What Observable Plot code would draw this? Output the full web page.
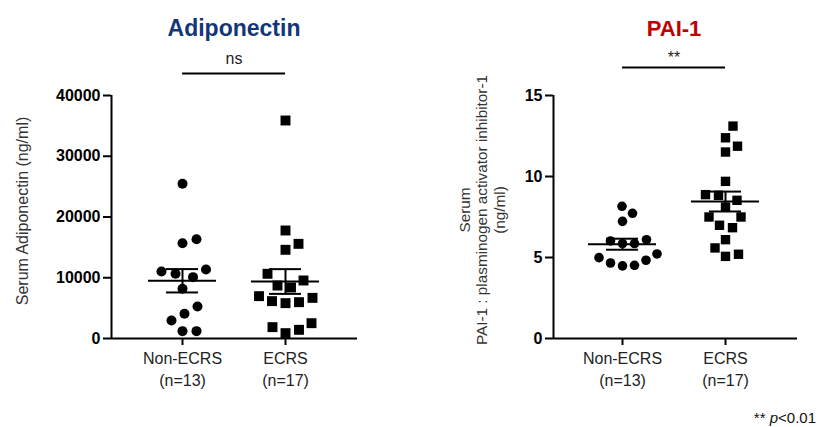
<!DOCTYPE html>
<html>
<head>
<meta charset="utf-8">
<script src="https://cdn.jsdelivr.net/npm/d3@7"></script>
<script src="https://cdn.jsdelivr.net/npm/@observablehq/plot@0.6"></script>
<style>
  html, body { margin: 0; padding: 0; background: #fff; }
  #wrap { position: relative; width: 817px; height: 427px; overflow: hidden; font-family: "Liberation Sans", Arial, sans-serif; }
  #left, #right { position: absolute; top: 0; }
  #left { left: 0; }
  #right { left: 408px; }
  [aria-label="y-axis tick label"] { font-weight: bold; font-size: 16px; }
  #foot { position: absolute; right: 1px; top: 409px; font-size: 15px; color: #111; white-space: nowrap; }
</style>
</head>
<body>
<div id="wrap">
  <div id="left"></div>
  <div id="right"></div>
  <div id="foot">** <i>p</i>&lt;0.01</div>
</div>
<script>
// ---- data ----
const groups = ["Non-ECRS", "ECRS"];
const groupN = ["(n=13)", "(n=17)"];

const adipoNonECRS = [25465, 15690, 16350, 11030, 11360, 10650, 10100, 8180, 5270, 4060, 2960, 1210, 1210];
const adipoECRS = [35885, 17780, 15580, 14600, 10650, 9550, 8720, 8400, 6690, 6970, 5980, 5820, 6150, 2520, 1870, 1430, 880];
const adipoTicks = [0, 10000, 20000, 30000, 40000];

const paiNonECRS = [8.16, 7.73, 7.23, 6.10, 6.02, 5.86, 5.86, 4.99, 5.22, 4.83, 4.66, 4.48, 4.52];
const paiECRS = [13.11, 12.39, 11.87, 11.51, 9.70, 8.84, 8.88, 8.53, 8.11, 7.50, 7.50, 6.99, 6.84, 6.10, 5.59, 5.07, 5.20];
const paiTicks = [0, 5, 10, 15];

// ---- layout helpers ----
const H = 400, MT = 95, MB = 62;
const frameH = H - MT - MB;
const groupStepPx = 103; // pixel distance between group centres

// simple beeswarm: offsets computed in pixel space (elliptical spacing), returned in x data units
function swarm(values, gi, yMax, Dx, Dy) {
  const yPx = frameH / yMax;
  const pts = values.map(v => ({v, py: v * yPx})).sort((a, b) => a.py - b.py);
  const placed = [];
  for (const p of pts) {
    for (let k = 0; ; k++) {
      const off = k === 0 ? 0 : (k % 2 ? 1 : -1) * Math.ceil(k / 2) * 0.5;
      const ok = placed.every(q => ((off - q.off) / Dx) ** 2 + ((p.py - q.py) / Dy) ** 2 >= 1);
      if (ok) { p.off = off; placed.push(p); break; }
    }
  }
  return placed.map(p => ({g: gi, v: p.v, x: gi + p.off / groupStepPx}));
}

function stats(values, gi) {
  return {g: gi, mean: d3.mean(values), sem: d3.deviation(values) / Math.sqrt(values.length)};
}

function makeChart({width, marginLeft, marginRight, leftGapPx, yMax, ticks, a, b, title, titleColor, titleSize, sig, sigDy, sigTextDy, ylabel, ylabelDx, ylabelDy, ylabelSize, rC, rS, cD, sD}) {
  const frameW = width - marginLeft - marginRight;
  const x0 = -leftGapPx / groupStepPx;
  const xDomain = [x0, x0 + frameW / groupStepPx];
  const ptsA = swarm(a, 0, yMax, cD[0], cD[1]);
  const ptsB = swarm(b, 1, yMax, sD[0], sD[1]);
  const st = [stats(a, 0), stats(b, 1)];
  const halfMean = 34 / groupStepPx, halfCap = 16 / groupStepPx;
  return Plot.plot({
    width, height: H,
    marginLeft, marginRight, marginTop: MT, marginBottom: MB,
    style: {fontFamily: '"Liberation Sans", Arial, sans-serif', color: "#000", background: "transparent", overflow: "visible"},
    x: {domain: xDomain, axis: null},
    y: {domain: [0, yMax], axis: null},
    marks: [
      Plot.axisY({ticks, tickSize: 8, tickPadding: 3, strokeWidth: 2, tickFormat: d3.format("d"), label: null, fontSize: 16, fontWeight: "bold"}),
      Plot.axisX({ticks: [0, 1], tickSize: 7, strokeWidth: 2, tickFormat: () => "", label: null}),
      Plot.ruleX([xDomain[0]], {strokeWidth: 2}),
      Plot.ruleY([0], {strokeWidth: 2}),
      Plot.dot(ptsA, {x: "x", y: "v", r: rC, fill: "black", stroke: "none", symbol: "circle"}),
      Plot.dot(ptsB, {x: "x", y: "v", r: rS, fill: "black", stroke: "none", symbol: "square"}),
      Plot.ruleY(st, {y: "mean", x1: d => d.g - halfMean, x2: d => d.g + halfMean, strokeWidth: 2}),
      Plot.ruleX(st, {x: "g", y1: d => d.mean - d.sem, y2: d => d.mean + d.sem, strokeWidth: 2}),
      Plot.ruleY(st, {y: d => d.mean + d.sem, x1: d => d.g - halfCap, x2: d => d.g + halfCap, strokeWidth: 2}),
      Plot.ruleY(st, {y: d => d.mean - d.sem, x1: d => d.g - halfCap, x2: d => d.g + halfCap, strokeWidth: 2}),
      Plot.text(groups, {x: (d, i) => i, text: d => d, frameAnchor: "bottom", lineAnchor: "middle", dy: 20, fontSize: 16, fill: "#222"}),
      Plot.text(groupN, {x: (d, i) => i, text: d => d, frameAnchor: "bottom", lineAnchor: "middle", dy: 42, fontSize: 16, fill: "#222"}),
      Plot.text([title], {x: () => 0.5, text: d => d, frameAnchor: "top", lineAnchor: "middle", dy: -67, fontSize: titleSize, fontWeight: "bold", fill: titleColor}),
      Plot.text([sig], {x: () => 0.5, text: d => d, frameAnchor: "top", lineAnchor: "middle", dy: sigTextDy, fontSize: 16, fill: "#222"}),
      Plot.ruleY([yMax], {x1: () => 0, x2: () => 1, dy: sigDy, strokeWidth: 2}),
      Plot.text([ylabel], {text: d => d, frameAnchor: "left", textAnchor: "middle", lineAnchor: "middle", rotate: -90, dx: ylabelDx, dy: ylabelDy, fontSize: ylabelSize, lineHeight: 1.15, fill: "#333"})
    ]
  });
}

document.getElementById("left").append(makeChart({
  width: 408, marginLeft: 111, marginRight: 51, leftGapPx: 71, yMax: 40000, ticks: adipoTicks,
  a: adipoNonECRS, b: adipoECRS, title: "Adiponectin", titleColor: "#14357a", titleSize: 23,
  sig: "ns", sigDy: -22, sigTextDy: -37,
  ylabel: "Serum Adiponectin (ng/ml)", ylabelDx: -89, ylabelDy: -6, ylabelSize: 16,
  rC: 5, rS: 5.6, cD: [14, 17], sD: [13.5, 17]
}));

document.getElementById("right").append(makeChart({
  width: 409, marginLeft: 145, marginRight: 20, leftGapPx: 69, yMax: 15, ticks: paiTicks,
  a: paiNonECRS, b: paiECRS, title: "PAI-1", titleColor: "#c00000", titleSize: 22,
  sig: "**", sigDy: -28, sigTextDy: -38,
  ylabel: "Serum\nPAI-1 : plasminogen activator inhibitor-1\n(ng/ml)", ylabelDx: -72, ylabelDy: -7, ylabelSize: 15.3,
  rC: 4.8, rS: 5.3, cD: [12, 14], sD: [13, 14]
}));
</script>
</body>
</html>
